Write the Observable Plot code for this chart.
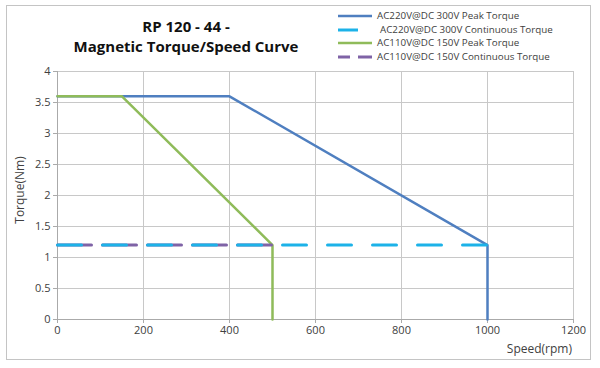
<!DOCTYPE html>
<html><head><meta charset="utf-8">
<script src="https://cdn.jsdelivr.net/npm/d3@7"></script>
<script src="https://cdn.jsdelivr.net/npm/@observablehq/plot@0.6"></script>
<style>
body{margin:0;background:#fff;font-family:"Open Sans",sans-serif}
#wrap{position:relative;width:600px;height:368px;overflow:hidden}
#frame{position:absolute;left:6px;top:5px;width:585px;height:355px;border:1px solid #c4c4c4;box-sizing:border-box}
#chart{position:absolute;left:0;top:0}
#title{position:absolute;left:58px;width:256px;top:16px;text-align:center;font-weight:bold;font-size:15px;line-height:20px;color:#111}
#legend{position:absolute;left:338px;top:9px;font-size:9.8px;color:#404040;line-height:13.7px}
#legend div{display:flex;align-items:center;white-space:nowrap}
#legend svg{margin-right:3px}
#ylab{position:absolute;left:19px;top:190px;transform:translate(-50%,-50%) rotate(-90deg);font-size:12px;color:#404040;white-space:nowrap}
#xlab{position:absolute;right:28px;top:340px;font-size:12px;color:#404040}
</style></head>
<body><div id="wrap"><div id="frame"></div><div id="chart"></div>
<div id="title">RP 120 - 44 -<br>Magnetic Torque/Speed Curve</div>
<div id="legend"></div>
<div id="ylab">Torque(Nm)</div><div id="xlab">Speed(rpm)</div>
</div>
<script>
const seriesNames = ["AC220V@DC 300V Peak Torque","AC220V@DC 300V Continuous Torque","AC110V@DC 150V Peak Torque","AC110V@DC 150V Continuous Torque"];
const seriesColors = ["#4f7fc0","#1cb2e8","#8fbb5a","#7f63a6"];
const peak220Speed = [0,400,1000,1000];
const peak220Torque = [3.6,3.6,1.2,0];
const cont220Speed = [0,1000];
const cont220Torque = [1.2,1.2];
const peak110Speed = [0,150,500,500];
const peak110Torque = [3.6,3.6,1.2,0];
const cont110Speed = [0,500];
const cont110Torque = [1.2,1.2];
const xTicks = [0,200,400,600,800,1000,1200];
const yTicks = [0,0.5,1,1.5,2,2.5,3,3.5,4];

const pts = (xs, ys) => xs.map((x,i)=>({x, y: ys[i]}));

const plot = Plot.plot({
  width: 600, height: 368,
  marginLeft: 57, marginRight: 27, marginTop: 71, marginBottom: 49,
  style: {fontFamily: '"Open Sans",sans-serif', fontSize: "11px", color: "#404040", background: "transparent"},
  x: {domain: [0,1200]},
  y: {domain: [0,4]},
  marks: [
    Plot.gridX(xTicks, {stroke: "#c8c8c8", strokeOpacity: 1}),
    Plot.gridY(yTicks, {stroke: "#c8c8c8", strokeOpacity: 1}),
    Plot.ruleX([0], {stroke: "#aaaaaa"}),
    Plot.ruleY([0], {stroke: "#aaaaaa"}),
    Plot.axisX(xTicks, {tickSize: 4, stroke: "#aaaaaa", tickPadding: 3, fill: "#404040", label: null, tickFormat: d => String(d)}),
    Plot.axisY(yTicks, {tickSize: 4, stroke: "#aaaaaa", tickPadding: 3, fill: "#404040", label: null, tickFormat: d => String(d)}),
    Plot.line(pts(peak220Speed, peak220Torque), {x: "x", y: "y", stroke: seriesColors[0], strokeWidth: 2.5}),
    Plot.line(pts(peak110Speed, peak110Torque), {x: "x", y: "y", stroke: seriesColors[2], strokeWidth: 2.5}),
    Plot.line(pts(cont110Speed, cont110Torque), {x: "x", y: "y", stroke: seriesColors[3], strokeWidth: 3, strokeDasharray: "34 11"}),
    Plot.line(pts(cont220Speed, cont220Torque), {x: "x", y: "y", stroke: seriesColors[1], strokeWidth: 3, strokeDasharray: "24 21"})
  ]
});
document.getElementById("chart").appendChild(plot);

const samples = [
  '<line x1="0" y1="5" x2="34" y2="5" stroke-width="2.5" stroke="C"/>',
  '<line x1="0" y1="5" x2="20" y2="5" stroke-width="3" stroke="C"/>',
  '<line x1="0" y1="5" x2="34" y2="5" stroke-width="2.5" stroke="C"/>',
  '<line x1="0" y1="5" x2="12" y2="5" stroke-width="3" stroke="C"/><line x1="20" y1="5" x2="34" y2="5" stroke-width="3" stroke="C"/>'
];
const lg = document.getElementById("legend");
seriesNames.forEach((n,i)=>{
  const d = document.createElement("div");
  d.innerHTML = `<svg width="36" height="10">${samples[i].replaceAll("C", seriesColors[i])}</svg><span${i===1?' style="margin-left:3px"':''}>${n}</span>`;
  lg.appendChild(d);
});
</script>
</body></html>
